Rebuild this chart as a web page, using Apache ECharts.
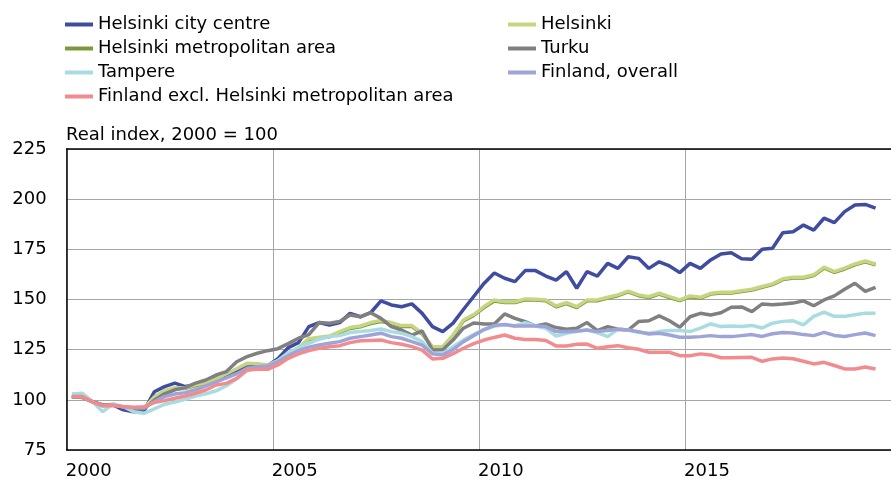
<!DOCTYPE html>
<html>
<head>
<meta charset="utf-8">
<script src="https://cdn.jsdelivr.net/npm/echarts@6/dist/echarts.min.js"></script>
<style>
  html, body { margin: 0; padding: 0; background: #fff; }
  #chart { width: 891px; height: 487px; }
</style>
</head>
<body>
<div id="chart"></div>
<script>
// quarterly real price index, 2000Q1 .. 2019Q3 (2000 = 100)
var years = [2000, 2005, 2010, 2015];

var cityCentre = [
  101.6, 101.3, 99.1, 97.5, 97.5, 95.0, 94.1, 94.5, 104.0, 106.6, 108.3, 106.6, 107.4,
  109.1, 111.6, 112.4, 114.0, 116.0, 117.0, 117.0, 120.5, 126.0, 128.5, 136.5, 138.5, 137.3,
  138.5, 143.1, 141.4, 143.4, 149.3, 147.3, 146.4, 147.8, 143.1, 136.5, 134.0, 138.2, 145.0, 151.5,
  158.0, 163.2, 160.6, 158.9, 164.4, 164.4, 161.7, 159.7, 163.9, 155.6, 163.9, 161.7, 168.0,
  165.5, 171.3, 170.5, 165.5, 168.8, 166.7, 163.4, 168.0, 165.5, 169.7, 172.7, 173.3, 170.3,
  170.0, 175.0, 175.5, 183.3, 183.8, 187.1, 184.6, 190.5, 188.3, 193.8, 197.1, 197.4, 195.5
];
var helsinki = [
  101.6, 101.3, 99.1, 97.3, 97.8, 96.5, 95.8, 95.8, 101.5, 104.5, 106.0, 106.0, 107.4,
  108.5, 110.5, 113.0, 115.5, 118.2, 118.0, 117.4, 119.5, 123.0, 126.0, 130.5, 131.2, 131.8,
  134.0, 136.0, 136.8, 138.5, 139.5, 138.5, 137.0, 137.0, 133.2, 126.5, 126.5, 132.3, 139.8, 142.5,
  146.5, 149.8, 148.9, 148.9, 150.3, 150.1, 149.8, 146.8, 148.4, 146.4, 149.8, 149.8, 151.1,
  152.3, 154.2, 152.3, 151.4, 153.1, 151.4, 149.8, 151.8, 151.1, 153.1, 153.6, 153.6, 154.4,
  155.1, 156.5, 157.8, 160.3, 161.1, 161.1, 162.3, 166.1, 163.9, 165.6, 167.7, 169.2, 167.7
];
var metroArea = [
  101.5, 101.2, 99.0, 97.2, 97.6, 96.3, 95.6, 95.6, 101.0, 104.0, 105.6, 105.7, 107.0,
  108.2, 110.2, 112.6, 115.1, 117.8, 117.7, 117.1, 119.1, 122.6, 125.6, 130.0, 130.8, 131.4,
  133.6, 135.6, 136.4, 138.0, 139.0, 138.1, 136.6, 136.6, 132.8, 126.2, 126.2, 131.9, 139.3, 142.1,
  146.0, 149.3, 148.5, 148.5, 149.8, 149.7, 149.4, 146.4, 148.0, 146.0, 149.4, 149.4, 150.7,
  151.9, 153.8, 151.9, 151.0, 152.7, 151.0, 149.4, 151.4, 150.7, 152.7, 153.2, 153.2, 154.0,
  154.7, 156.1, 157.4, 159.9, 160.7, 160.7, 161.9, 165.7, 163.5, 165.2, 167.3, 168.8, 167.3
];
var turku = [
  101.6, 101.3, 99.1, 97.3, 97.5, 96.5, 95.5, 95.5, 99.8, 103.0, 105.0, 106.1, 108.3,
  109.9, 112.4, 114.1, 119.0, 121.5, 123.2, 124.5, 125.5, 128.0, 130.7, 132.5, 138.5, 138.2,
  139.0, 142.3, 141.4, 143.4, 140.6, 136.5, 134.8, 132.3, 134.3, 124.8, 125.0, 129.8, 135.7, 138.3,
  137.8, 137.8, 142.8, 140.6, 139.0, 136.8, 137.8, 136.0, 135.2, 135.7, 138.5, 134.5, 136.5,
  135.2, 134.8, 139.0, 139.4, 141.8, 139.4, 136.2, 141.4, 143.1, 142.3, 143.4, 146.1, 146.3,
  144.0, 147.8, 147.4, 147.7, 148.2, 149.3, 146.9, 149.8, 151.8, 155.1, 158.1, 154.0, 156.1
];
var tampere = [
  102.9, 103.3, 99.1, 94.1, 98.0, 96.6, 94.1, 93.3, 95.5, 97.8, 98.9, 100.3, 101.9,
  103.0, 104.5, 107.0, 110.5, 114.5, 116.0, 116.5, 119.5, 123.5, 126.0, 128.2, 130.2, 131.5,
  132.0, 133.5, 134.0, 134.5, 135.3, 134.0, 133.2, 131.5, 129.0, 123.2, 123.0, 126.5, 129.8, 132.5,
  135.0, 136.8, 137.3, 136.8, 138.5, 136.8, 135.7, 131.8, 133.2, 134.0, 134.8, 133.5, 131.5,
  135.2, 134.8, 133.5, 133.2, 134.0, 134.5, 134.5, 134.0, 135.7, 137.8, 136.5, 136.8, 136.6,
  137.1, 135.8, 138.2, 139.1, 139.4, 137.4, 141.6, 143.7, 141.6, 141.6, 142.4, 143.2, 143.2
];
var finland = [
  101.6, 101.5, 99.0, 97.0, 97.3, 96.5, 96.0, 96.0, 99.0, 101.6, 102.9, 103.6, 105.0,
  107.0, 109.0, 111.0, 113.0, 115.7, 116.5, 116.9, 119.0, 122.0, 124.5, 126.2, 127.3, 128.2,
  129.0, 130.7, 131.5, 132.3, 133.2, 131.5, 130.7, 129.0, 127.3, 122.9, 122.4, 125.0, 129.0, 132.0,
  135.0, 137.0, 137.6, 136.8, 136.8, 136.8, 136.5, 134.0, 134.0, 134.3, 134.8, 134.0, 134.5,
  135.2, 134.8, 134.0, 132.8, 133.2, 132.3, 131.2, 131.2, 131.5, 132.0, 131.5, 131.5, 132.0,
  132.5, 131.6, 132.9, 133.6, 133.3, 132.5, 132.0, 133.6, 132.1, 131.6, 132.5, 133.3, 132.0
];
var finlandExcl = [
  101.6, 101.6, 99.1, 97.0, 97.3, 96.6, 96.3, 96.6, 98.6, 99.6, 100.8, 101.9, 103.3,
  104.9, 107.4, 108.2, 110.7, 114.9, 115.2, 115.2, 117.4, 120.7, 122.9, 124.5, 125.7, 126.5,
  127.0, 128.5, 129.4, 129.6, 129.8, 128.5, 127.7, 126.5, 124.8, 120.4, 120.7, 123.0, 125.7, 128.0,
  129.8, 131.1, 132.3, 130.7, 130.1, 130.1, 129.6, 126.8, 126.8, 127.7, 127.8, 125.7, 126.5,
  127.0, 126.0, 125.2, 123.7, 123.7, 123.7, 122.0, 122.0, 122.9, 122.4, 121.0, 121.0, 121.1,
  121.2, 119.2, 120.4, 120.9, 120.5, 119.2, 117.9, 118.7, 117.1, 115.4, 115.4, 116.4, 115.4
];

var FONT = 'DejaVu Sans';
var GRID = '#a6a6a6';

// put each quarter in the middle of its slot on the x axis
function pts(values) {
  return values.map(function (v, i) { return [i + 0.5, v]; });
}

function line(name, values, color) {
  return {
    name: name,
    type: 'line',
    data: pts(values),
    color: color,
    symbol: 'none',
    lineStyle: { width: 3.5, color: color },
    emphasis: { disabled: true }
  };
}

var legendStyle = {
  orient: 'vertical',
  top: 12.5,
  padding: 0,
  itemWidth: 28,
  itemHeight: 4,
  itemGap: 0,
  icon: 'rect',
  selectedMode: false,
  textStyle: { fontFamily: FONT, fontSize: 18, color: '#000', lineHeight: 24 }
};

var chart = echarts.init(document.getElementById('chart'));

var option = {
  animation: false,
  backgroundColor: '#fff',
  grid: { left: 66.7, top: 149, width: 840, height: 301 },
  legend: [
    Object.assign({}, legendStyle, {
      left: 65,
      data: ['Helsinki city centre', 'Helsinki metropolitan area', 'Tampere',
             'Finland excl. Helsinki metropolitan area']
    }),
    Object.assign({}, legendStyle, {
      left: 508,
      data: ['Helsinki', 'Turku', 'Finland, overall']
    })
  ],
  graphic: [{
    type: 'text',
    left: 66,
    top: 126,
    style: { text: 'Real index, 2000 = 100', font: '18px "DejaVu Sans"', fill: '#000' }
  }],
  xAxis: [
    {
      type: 'value',
      min: 0,
      max: 80,
      interval: 20,
      axisLine: { onZero: false, lineStyle: { color: '#000', width: 1.5 } },
      axisTick: { show: false },
      splitLine: { show: true, lineStyle: { color: GRID, width: 1 } },
      axisLabel: {
        margin: 12,
        padding: [0, 0, 0, 44],
        showMaxLabel: false,
        fontFamily: FONT,
        fontSize: 18,
        color: '#000',
        formatter: function (v) {
          var k = v / 20;
          return years[k] !== undefined ? String(years[k]) : '';
        }
      }
    },
    {
      type: 'value',
      position: 'top',
      min: 0,
      max: 80,
      axisLine: { show: true, onZero: false, lineStyle: { color: '#000', width: 1.5 } },
      axisTick: { show: false },
      axisLabel: { show: false },
      splitLine: { show: false }
    }
  ],
  yAxis: {
    type: 'value',
    min: 75,
    max: 225,
    interval: 25,
    axisLine: { show: true, lineStyle: { color: '#000', width: 1.5 } },
    axisTick: { show: false },
    splitLine: { lineStyle: { color: GRID, width: 1 } },
    axisLabel: { margin: 20, fontFamily: FONT, fontSize: 18, color: '#000' }
  },
  series: [
    line('Helsinki metropolitan area', metroArea, '#7a9a3a'),
    line('Helsinki city centre', cityCentre, '#3f4c9f'),
    line('Helsinki', helsinki, '#c5d581'),
    line('Turku', turku, '#808080'),
    line('Tampere', tampere, '#a8dce0'),
    line('Finland, overall', finland, '#9fa4d8'),
    line('Finland excl. Helsinki metropolitan area', finlandExcl, '#f28b8e')
  ]
};

chart.setOption(option);
</script>
</body>
</html>
